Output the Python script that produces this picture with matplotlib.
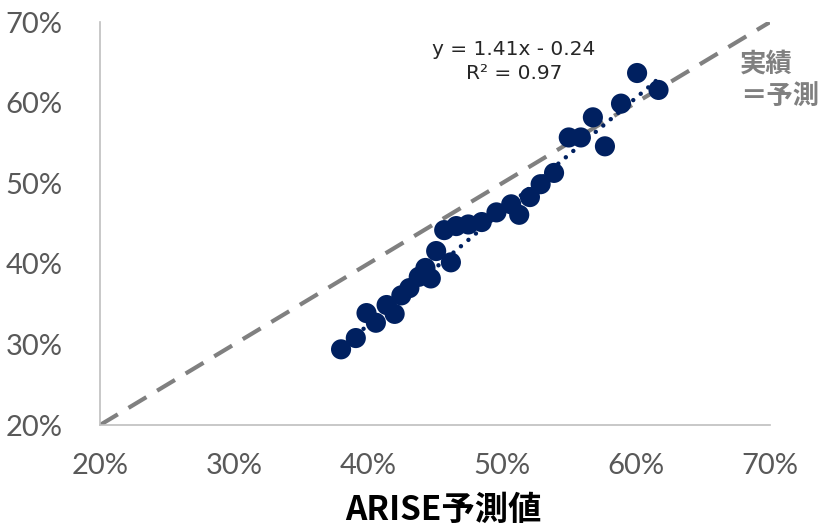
import matplotlib.pyplot as plt
import numpy as np

plt.rcParams["font.family"] = ["Lato", "Noto Sans CJK JP", "DejaVu Sans"]

# ARISE prediction (x) vs actual (y), in fraction
predicted = [0.380, 0.391, 0.399, 0.406, 0.414, 0.420, 0.425, 0.431, 0.438, 0.443,
             0.447, 0.451, 0.457, 0.462, 0.466, 0.475, 0.485, 0.496, 0.507, 0.513,
             0.521, 0.529, 0.539, 0.550, 0.559, 0.568, 0.577, 0.589, 0.601, 0.617]
actual = [0.294, 0.308, 0.339, 0.327, 0.349, 0.338, 0.361, 0.370, 0.384, 0.395,
          0.382, 0.416, 0.442, 0.402, 0.447, 0.449, 0.452, 0.464, 0.474, 0.461,
          0.483, 0.499, 0.513, 0.557, 0.557, 0.582, 0.546, 0.599, 0.637, 0.616]

slope = 1.41
intercept = -0.24
r2 = 0.97

ticks = [0.2, 0.3, 0.4, 0.5, 0.6, 0.7]
tick_labels = ["20%", "30%", "40%", "50%", "60%", "70%"]

navy = "#002060"
gray = "#808080"

fig = plt.figure(figsize=(8.33, 5.3), dpi=100)
ax = fig.add_axes([0.120, 0.198, 0.804, 0.760])

# actual = predicted reference line
ax.plot([0.2, 0.7], [0.2, 0.7], color=gray, linewidth=3.0,
        linestyle=(0, (5, 3)), zorder=1)

ax.scatter(predicted, actual, s=210, color=navy, edgecolors="none", zorder=2)

# linear trendline
tx = np.array([min(predicted), max(predicted)])
ax.plot(tx, slope * tx + intercept, color=navy, linewidth=3.2,
        linestyle=(0, (0.01, 2.2)), dash_capstyle="round", zorder=3)

ax.text(0.509, 0.651, f"y = {slope:.2f}x - {abs(intercept):.2f}\nR² = {r2:.2f}",
        ha="center", va="center", fontsize=14.5, color="#262626",
        family=["DejaVu Sans"], linespacing=1.3)

ax.text(0.678, 0.628, "実績\n＝予測", ha="left", va="center", fontsize=19,
        fontweight="bold", color=gray, family=["Noto Sans CJK JP"],
        linespacing=1.3, clip_on=False)

ax.set_xlim(0.2, 0.7)
ax.set_ylim(0.2, 0.7)
ax.set_xticks(ticks)
ax.set_xticklabels(tick_labels)
ax.set_yticks(ticks)
ax.set_yticklabels(tick_labels)
ax.tick_params(length=0, labelsize=21, labelcolor="#595959")
ax.tick_params(axis="x", pad=20)
ax.tick_params(axis="y", pad=27)

for side in ["top", "right"]:
    ax.spines[side].set_visible(False)
for side in ["left", "bottom"]:
    ax.spines[side].set_color("#bfbfbf")
    ax.spines[side].set_linewidth(1.2)

ax.set_xlabel("ARISE予測値", fontsize=24, fontweight="bold", color="black",
              family=["Noto Sans CJK JP"], va="center")
ax.xaxis.set_label_coords(0.513, -0.212)

fig.savefig("out.png", dpi=100)
